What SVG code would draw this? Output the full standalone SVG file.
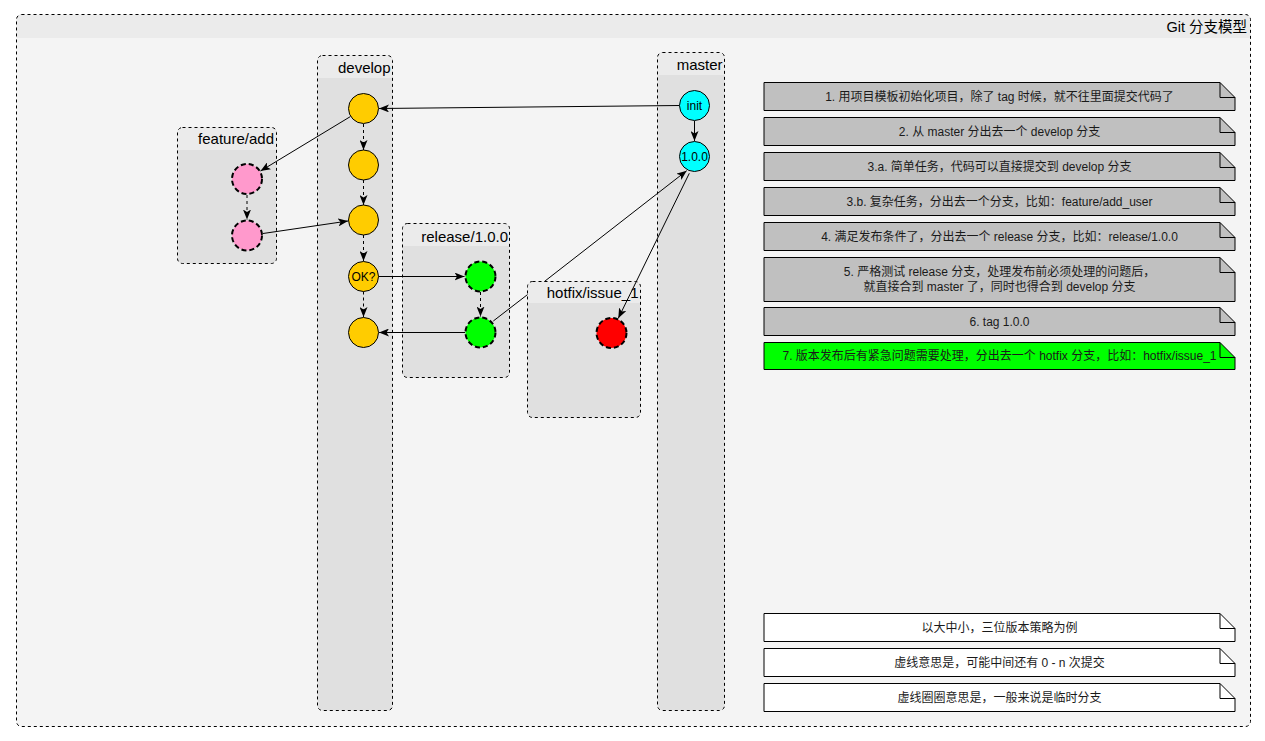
<svg xmlns="http://www.w3.org/2000/svg" width="1265" height="741" viewBox="0 0 1265 741">
  <defs>
    <marker id="arrow" viewBox="0 0 10 8" refX="10" refY="4" markerWidth="10" markerHeight="8" markerUnits="userSpaceOnUse" orient="auto">
      <path d="M0,0 L10,4 L0,8 L2.5,4 Z" fill="#000"/>
    </marker>
  </defs>
  <style>
    text { font-family: "Liberation Sans", Arial, "Noto Sans CJK SC", sans-serif; fill: #000; }
    .frame-body { fill: #f4f4f4; }
    .frame-head { fill: #ebebeb; }
    .lane-body { fill: #e0e0e0; }
    .lane-head { fill: #ebebeb; }
    .outline { fill: none; stroke: #000; stroke-width: 1; stroke-dasharray: 3 3; }
    .title { font-size: 14.5px; text-anchor: end; }
    .lane-label { font-size: 15px; text-anchor: end; }
    .edge { fill: none; stroke: #000; stroke-width: 1; marker-end: url(#arrow); }
    .edge.dash { stroke-dasharray: 3 3; }
    .commit { stroke: #000; stroke-width: 1; }
    .temp { stroke: #000; stroke-width: 2; stroke-dasharray: 5 3; }
    .c-develop { fill: #ffcc00; }
    .c-master { fill: #00ffff; }
    .c-feature { fill: #ff99cc; }
    .c-release { fill: #00ff00; }
    .c-hotfix { fill: #ff0000; }
    .node-label { font-size: 12px; text-anchor: middle; }
    .note { stroke: #000; stroke-width: 1; }
    .note-fold { fill: none; stroke: #000; stroke-width: 1; }
    .note-gray { fill: #c0c0c0; }
    .note-green { fill: #00ff00; }
    .note-white { fill: #ffffff; }
    .note-text { font-size: 12px; text-anchor: middle; fill: #1a1a1a; }
  </style>

  <!-- outer container -->
  <g id="git-model">
    <rect class="frame-body" x="16.5" y="14.5" width="1234" height="712" rx="5"/>
    <path class="frame-head" d="M16.5,38 V19.5 Q16.5,14.5 21.5,14.5 H1245.5 Q1250.5,14.5 1250.5,19.5 V38 Z"/>
    <rect class="outline" x="16.5" y="14.5" width="1234" height="712" rx="5"/>
    <text class="title" x="1247" y="32">Git 分支模型</text>
  </g>

  <!-- branch lanes -->
  <g id="lane-develop">
    <rect class="lane-body" x="317.5" y="55.5" width="75" height="655" rx="5"/>
    <path class="lane-head" d="M317.5,78 V60.5 Q317.5,55.5 322.5,55.5 H387.5 Q392.5,55.5 392.5,60.5 V78 Z"/>
    <rect class="outline" x="317.5" y="55.5" width="75" height="655" rx="5"/>
    <text class="lane-label" x="390.5" y="72.5">develop</text>
  </g>
  <g id="lane-master">
    <rect class="lane-body" x="657.5" y="52.5" width="67" height="658" rx="5"/>
    <path class="lane-head" d="M657.5,75 V57.5 Q657.5,52.5 662.5,52.5 H719.5 Q724.5,52.5 724.5,57.5 V75 Z"/>
    <rect class="outline" x="657.5" y="52.5" width="67" height="658" rx="5"/>
    <text class="lane-label" x="722.5" y="70">master</text>
  </g>
  <g id="lane-feature">
    <rect class="lane-body" x="177.5" y="127.5" width="99" height="136" rx="5"/>
    <path class="lane-head" d="M177.5,150 V132.5 Q177.5,127.5 182.5,127.5 H271.5 Q276.5,127.5 276.5,132.5 V150 Z"/>
    <rect class="outline" x="177.5" y="127.5" width="99" height="136" rx="5"/>
    <text class="lane-label" x="274" y="144">feature/add</text>
  </g>
  <g id="lane-release">
    <rect class="lane-body" x="402.5" y="223.5" width="107" height="154" rx="5"/>
    <path class="lane-head" d="M402.5,246 V228.5 Q402.5,223.5 407.5,223.5 H504.5 Q509.5,223.5 509.5,228.5 V246 Z"/>
    <rect class="outline" x="402.5" y="223.5" width="107" height="154" rx="5"/>
    <text class="lane-label" x="508" y="241.5">release/1.0.0</text>
  </g>
  <g id="lane-hotfix">
    <rect class="lane-body" x="527.5" y="281.5" width="113" height="136" rx="5"/>
    <path class="lane-head" d="M527.5,303 V286.5 Q527.5,281.5 532.5,281.5 H635.5 Q640.5,281.5 640.5,286.5 V303 Z"/>
    <rect class="outline" x="527.5" y="281.5" width="113" height="136" rx="5"/>
    <text class="lane-label" x="638.5" y="297.5">hotfix/issue_1</text>
  </g>

  <!-- connectors -->
  <g id="connectors">
    <!-- develop commits -->
    <path class="edge dash" d="M363.5,124 V150"/>
    <path class="edge dash" d="M363.5,180 V205"/>
    <path class="edge dash" d="M363.5,235 V261"/>
    <path class="edge dash" d="M363.5,291.5 V317"/>
    <!-- feature commits -->
    <path class="edge dash" d="M247,195 V219.5"/>
    <!-- release commits -->
    <path class="edge dash" d="M480.5,292 V316.5"/>
    <!-- master: init to 1.0.0 -->
    <path class="edge" d="M694.5,121 V141"/>
    <!-- master init starts develop -->
    <path class="edge" d="M679.5,105.5 L379,108.5"/>
    <!-- develop to feature and back -->
    <path class="edge" d="M350.5,116.5 L260.5,171"/>
    <path class="edge" d="M263,233.5 L348,221"/>
    <!-- release cut and merge back -->
    <path class="edge" d="M378.5,276.5 H464.5"/>
    <path class="edge" d="M465,332.5 H379"/>
    <!-- release merged into master (passes behind the hotfix lane) -->
    <path class="edge" d="M493.3,321 L527.5,294.6 M544.4,281.5 L686.7,170.7"/>
    <!-- hotfix from master -->
    <path class="edge" d="M689.3,173.3 L618.3,318.3"/>
  </g>

  <!-- commits -->
  <g id="develop-1"><circle class="commit c-develop" cx="363.5" cy="108.5" r="15"/></g>
  <g id="develop-2"><circle class="commit c-develop" cx="363.5" cy="165" r="15"/></g>
  <g id="develop-3"><circle class="commit c-develop" cx="363.5" cy="220" r="15"/></g>
  <g id="develop-ok">
    <circle class="commit c-develop" cx="363.5" cy="276.5" r="15"/>
    <text class="node-label" x="363.5" y="280.5">OK?</text>
  </g>
  <g id="develop-5"><circle class="commit c-develop" cx="363.5" cy="332.5" r="15"/></g>

  <g id="master-init">
    <circle class="commit c-master" cx="694.5" cy="105.5" r="15"/>
    <text class="node-label" x="694.5" y="109.5">init</text>
  </g>
  <g id="master-100">
    <circle class="commit c-master" cx="694.5" cy="156.5" r="15"/>
    <text class="node-label" x="694.5" y="160.5">1.0.0</text>
  </g>

  <g id="feature-1"><circle class="temp c-feature" cx="247" cy="179" r="15"/></g>
  <g id="feature-2"><circle class="temp c-feature" cx="247" cy="235.5" r="15"/></g>

  <g id="release-1"><circle class="temp c-release" cx="480.5" cy="276.5" r="15"/></g>
  <g id="release-2"><circle class="temp c-release" cx="480.5" cy="332.5" r="15"/></g>

  <g id="hotfix-1"><circle class="temp c-hotfix" cx="611.5" cy="333" r="15"/></g>

  <!-- step notes -->
  <g id="note-1">
    <path class="note note-gray" d="M764,82.5 H1220 L1235,97.5 V110.5 H764 Z"/>
    <path class="note-fold" d="M1220,82.5 V97.5 H1235"/>
    <text class="note-text" x="999.5" y="100.5">1. 用项目模板初始化项目，除了 tag 时候，就不往里面提交代码了</text>
  </g>
  <g id="note-2">
    <path class="note note-gray" d="M764,117.5 H1220 L1235,132.5 V145.5 H764 Z"/>
    <path class="note-fold" d="M1220,117.5 V132.5 H1235"/>
    <text class="note-text" x="999.5" y="135.5">2. 从 master 分出去一个 develop 分支</text>
  </g>
  <g id="note-3a">
    <path class="note note-gray" d="M764,152.5 H1220 L1235,167.5 V180.5 H764 Z"/>
    <path class="note-fold" d="M1220,152.5 V167.5 H1235"/>
    <text class="note-text" x="999.5" y="170.5">3.a. 简单任务，代码可以直接提交到 develop 分支</text>
  </g>
  <g id="note-3b">
    <path class="note note-gray" d="M764,187.5 H1220 L1235,202.5 V215.5 H764 Z"/>
    <path class="note-fold" d="M1220,187.5 V202.5 H1235"/>
    <text class="note-text" x="999.5" y="205.5">3.b. 复杂任务，分出去一个分支，比如：feature/add_user</text>
  </g>
  <g id="note-4">
    <path class="note note-gray" d="M764,222.5 H1220 L1235,237.5 V250.5 H764 Z"/>
    <path class="note-fold" d="M1220,222.5 V237.5 H1235"/>
    <text class="note-text" x="999.5" y="240.5">4. 满足发布条件了，分出去一个 release 分支，比如：release/1.0.0</text>
  </g>
  <g id="note-5">
    <path class="note note-gray" d="M764,257.5 H1220 L1235,272.5 V301.5 H764 Z"/>
    <path class="note-fold" d="M1220,257.5 V272.5 H1235"/>
    <text class="note-text" x="999.5" y="276">5. 严格测试 release 分支，处理发布前必须处理的问题后，</text>
    <text class="note-text" x="999.5" y="290.5">就直接合到 master 了，同时也得合到 develop 分支</text>
  </g>
  <g id="note-6">
    <path class="note note-gray" d="M764,307.5 H1220 L1235,322.5 V335.5 H764 Z"/>
    <path class="note-fold" d="M1220,307.5 V322.5 H1235"/>
    <text class="note-text" x="999.5" y="325.5">6. tag 1.0.0</text>
  </g>
  <g id="note-7">
    <path class="note note-green" d="M764,342.5 H1220 L1235,357.5 V369.5 H764 Z"/>
    <path class="note-fold" d="M1220,342.5 V357.5 H1235"/>
    <text class="note-text" x="999.5" y="360">7. 版本发布后有紧急问题需要处理，分出去一个 hotfix 分支，比如：hotfix/issue_1</text>
  </g>

  <!-- legend notes -->
  <g id="legend-1">
    <path class="note note-white" d="M764,613.5 H1220 L1235,628.5 V641.5 H764 Z"/>
    <path class="note-fold" d="M1220,613.5 V628.5 H1235"/>
    <text class="note-text" x="999.5" y="631.5">以大中小，三位版本策略为例</text>
  </g>
  <g id="legend-2">
    <path class="note note-white" d="M764,648.5 H1220 L1235,663.5 V676.5 H764 Z"/>
    <path class="note-fold" d="M1220,648.5 V663.5 H1235"/>
    <text class="note-text" x="999.5" y="666.5">虚线意思是，可能中间还有 0 - n 次提交</text>
  </g>
  <g id="legend-3">
    <path class="note note-white" d="M764,683.5 H1220 L1235,698.5 V711.5 H764 Z"/>
    <path class="note-fold" d="M1220,683.5 V698.5 H1235"/>
    <text class="note-text" x="999.5" y="701.5">虚线圈圈意思是，一般来说是临时分支</text>
  </g>
</svg>
